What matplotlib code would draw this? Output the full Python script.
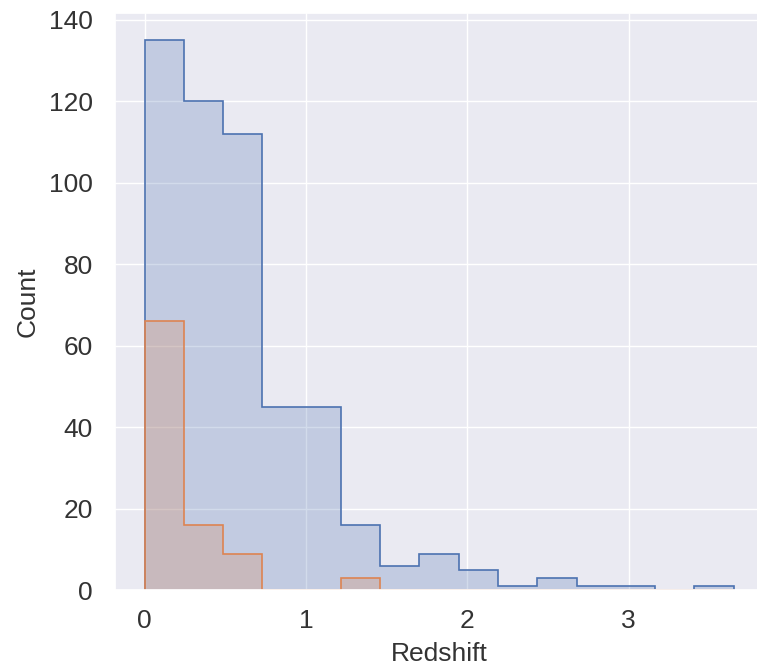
import numpy as np
import matplotlib
matplotlib.use("Agg")
import matplotlib.pyplot as plt
import seaborn as sns
from matplotlib.colors import to_rgba

# redshift histogram, 15 equal-width bins from 0 to 3.65
bin_lo = 0.0
bin_hi = 3.65
n_bins = 15

all_counts = [135, 120, 112, 45, 45, 16, 6, 9, 5, 1, 3, 1, 1, 0, 1]
sub_counts = [66, 16, 9, 0, 0, 3, 0, 0, 0, 0, 0, 0, 0, 0, 0]

sns.set_theme(style="darkgrid")
plt.rcParams['font.family'] = ['Liberation Sans', 'DejaVu Sans']

edges = np.linspace(bin_lo, bin_hi, n_bins + 1)
blue, orange = sns.color_palette("deep")[:2]

fig = plt.figure(figsize=(7.57, 6.70), dpi=100)
ax = fig.add_axes([0.152, 0.119, 0.856, 0.862])

for counts, col in [(all_counts, blue), (sub_counts, orange)]:
    ax.stairs(counts, edges, fill=True, facecolor=to_rgba(col, 0.25),
              edgecolor=col, linewidth=1.2)

ax.set_xlim(bin_lo - 0.05 * (bin_hi - bin_lo), bin_hi + 0.05 * (bin_hi - bin_lo))
ax.set_ylim(0, max(all_counts) * 1.05)
ax.set_xticks([0, 1, 2, 3])
ax.set_yticks(range(0, 141, 20))
ax.tick_params(axis="x", labelsize=19, pad=7.5, labelcolor=".2")
ax.tick_params(axis="y", labelsize=19, pad=10, labelcolor=".2")
ax.set_xlabel("Redshift", fontsize=19, labelpad=6.5, color=".2")
ax.set_ylabel("Count", fontsize=19, labelpad=6.5, color=".2")

fig.savefig("out.png", dpi=100)
